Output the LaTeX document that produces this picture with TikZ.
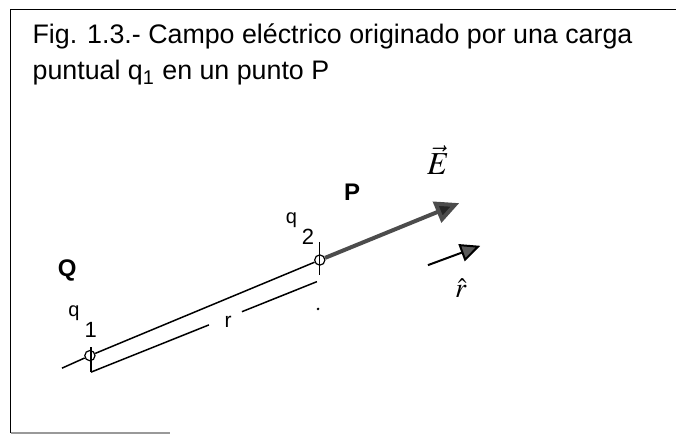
\documentclass[tikz,border=0pt]{standalone}
\usepackage{mathptmx}
\usepackage{fontspec}
\setmainfont{Liberation Sans}
\usetikzlibrary{arrows.meta,calc}

\newcommand{\qsub}[1]{{\fontsize{10}{10}\selectfont q}\kern2.5pt\raisebox{-10.5pt}{\fontsize{11}{11}\selectfont #1}}

\begin{document}
\begin{tikzpicture}[
  line width=0.75pt,
  charge/.style={draw, circle, line width=0.6pt, minimum size=0.18cm, inner sep=0pt},
  bold/.style={font=\fontsize{12}{12}\selectfont\bfseries, inner sep=0pt},
  qlbl/.style={inner sep=0pt, anchor=base west},
  field/.style={line width=2pt, draw=black!70, -{Triangle[length=12pt, width=11pt, fill=black!85]}},
  unitarr/.style={line width=1pt, -{Triangle[length=10pt, width=9pt, fill=black!65]}},
]
  \useasboundingbox (0,0) rectangle (11.88,7.66);

  % frame
  \draw[line width=0.6pt] (11.88,7.49) -| (0.19,0.05);
  \draw[line width=0.6pt, black!40] (0.19,0.05) -- (2.99,0.05);

  \node[anchor=north west, inner sep=0pt, align=left,
        font=\fontsize{13.4}{18}\selectfont] (title) at (0.56,7.25)
    {Fig. 1.3.- Campo eléctrico originado por una carga\\
     puntual q\textsubscript{1} en un punto P};

  % charges
  \node[charge] (charge1) at (1.58,1.41) {};
  \node[charge] (charge2) at (5.62,3.09) {};
  \coordinate (tail) at (1.09,1.19);
  \coordinate (tipE) at (8.07,4.09);

  \node[bold] (Q) at (1.18,2.90) {Q};
  \node[bold] (P) at (6.19,4.29) {P};
  \node[qlbl] (q1) at (1.19,2.09) {\qsub{1}};
  \node[qlbl] (q2) at (5.01,3.73) {\qsub{2}};

  \draw (tail) -- (charge1) -- (charge2);
  \draw[field] (charge2) -- (tipE);

  % distance r
  \coordinate (t1) at (1.60,1.56);
  \coordinate (d1) at (1.60,1.12);
  \coordinate (d2) at (5.57,2.71);
  \draw[line width=0.6pt] (t1) -- (d1);
  \draw (d1) -- ($(d1)!0.522!(d2)$);
  \draw ($(d1)!0.668!(d2)$) -- (d2);
  \node[inner sep=0pt, font=\fontsize{10.5}{10.5}\selectfont] (r) at (4.01,2.00) {r};
  \draw[line width=0.6pt] (5.61,3.41) -- (5.61,2.83);
  \fill (5.59,2.23) circle (0.7pt);

  % vectors
  \node[anchor=base, inner sep=0pt, font=\fontsize{16}{16}\selectfont] (E) at (7.70,4.59) {$\vec{E}$};
  \coordinate (u0) at (7.52,3.00);
  \coordinate (u1) at (8.44,3.34);
  \draw[unitarr] (u0) -- (u1);
  \node[anchor=base, inner sep=0pt, font=\fontsize{14}{14}\selectfont] (rhat) at (8.10,2.44) {$\hat{r}$};
\end{tikzpicture}
\end{document}
